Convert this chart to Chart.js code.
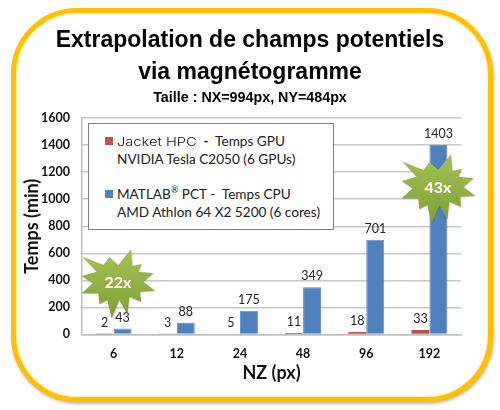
<!DOCTYPE html>
<html>
<head>
<meta charset="utf-8">
<script src="https://cdn.jsdelivr.net/npm/chart.js@4"></script>
<style>
html, body { margin: 0; padding: 0; background: #fff; overflow: hidden; }
#wrap { position: relative; width: 500px; height: 410px; }
#frame { position: absolute; left: 11px; top: 8px; width: 472px; height: 384px; border: 5px solid #ffc000; border-radius: 66px; box-shadow: 1px 2px 3px rgba(120,100,40,.45), inset 0 0 2px #ffc000; background: #fff; }
#c { position: absolute; left: 0; top: 0; }
#legend { position: absolute; left: 88px; top: 123px; width: 244px; height: 105px; background: #fff; border: 1px solid #7f7f7f; font: 13.6px Lato, sans-serif; color: #222; }
#legend div { position: absolute; left: 28px; white-space: nowrap; line-height: 18px; }
#legend i { position: absolute; left: 16px; width: 8px; height: 8px; }
.jacket { display: inline-block; font: 300 12px Inter, sans-serif; transform: scaleX(1.22); transform-origin: left center; width: 83px; color: #111; }
sup { font-size: 9px; line-height: 0; }
#stars { position: absolute; left: 0; top: 0; }
</style>
</head>
<body>
<div id="wrap">
  <div id="frame"></div>
  <canvas id="c" width="500" height="410"></canvas>
  <div id="legend">
    <i style="top:13px;background:#c0504d"></i>
    <div style="top:8px"><span class="jacket">Jacket HPC</span> <b style="font-weight:700">-</b>&nbsp; Temps GPU</div>
    <div style="top:26px">NVIDIA Tesla C2050 (6 GPUs)</div>
    <i style="top:66px;background:#4f81bd"></i>
    <div style="top:61px">MATLAB<sup>®</sup> PCT - &nbsp;Temps CPU</div>
    <div style="top:79px">AMD Athlon 64 X2 5200 (6 cores)</div>
  </div>
  <svg id="stars" width="500" height="410">
    <defs>
      <linearGradient id="g" x1="0" y1="0" x2="0" y2="1">
        <stop offset="0" stop-color="#a6c255"/>
        <stop offset="1" stop-color="#7f9f35"/>
      </linearGradient>
      <filter id="s" x="-20%" y="-20%" width="140%" height="140%">
        <feDropShadow dx="1" dy="1.5" stdDeviation="1.2" flood-color="#555" flood-opacity=".5"/>
      </filter>
      <polygon id="star" points="38,50 100,75 118,52 145,75 183,28 187,78 215,72 205,95 250,100 220,125 255,152 210,155 213,185 178,170 172,222 148,180 125,235 112,180 88,192 85,160 35,160 68,130 35,108 80,95" fill="url(#g)" filter="url(#s)"/>
    </defs>
    <g transform="translate(70,240) scale(.3333)"><use href="#star"/></g>
    <g transform="translate(390,145) scale(.3333)"><use href="#star"/></g>
    <text x="118" y="288" text-anchor="middle" font-family="Lato" font-weight="700" font-size="16" fill="#fff">22x</text>
    <text x="438" y="193" text-anchor="middle" font-family="Lato" font-weight="700" font-size="16" fill="#fff">43x</text>
  </svg>
</div>
<script>
var categories = ['6', '12', '24', '48', '96', '192'];
var gpuTimes = [2, 3, 5, 11, 18, 33];
var cpuTimes = [43, 88, 175, 349, 701, 1403];
var titleLines = ['Extrapolation de champs potentiels', 'via magnétogramme'];
var subtitleText = 'Taille : NX=994px, NY=484px';

// value labels above each bar
var barLabels = {
  id: 'barLabels',
  afterDatasetsDraw: function(chart) {
    var ctx = chart.ctx;
    ctx.save();
    ctx.font = '12.5px Lato, sans-serif';
    ctx.fillStyle = '#222';
    ctx.textAlign = 'center';
    ctx.textBaseline = 'middle';
    chart.data.datasets.forEach(function(ds, i) {
      chart.getDatasetMeta(i).data.forEach(function(bar, j) {
        ctx.fillText(ds.data[j], bar.x, bar.y - 11);
      });
    });
    ctx.restore();
  }
};

var ctx = document.getElementById('c').getContext('2d');
var myChart = new Chart(ctx, {
  type: 'bar',
  data: {
    labels: categories,
    datasets: [
      { label: 'Temps GPU', data: gpuTimes, backgroundColor: '#c0504d' },
      { label: 'Temps CPU', data: cpuTimes, backgroundColor: '#4f81bd', borderColor: '#5b8cc6', borderWidth: 1 }
    ]
  },
  plugins: [barLabels],
  options: {
    responsive: false,
    animation: false,
    layout: { padding: { left: 0, right: 0, top: 25, bottom: 26 } },
    datasets: { bar: { categoryPercentage: 0.57, barPercentage: 1 } },
    plugins: {
      legend: { display: false },
      tooltip: { enabled: false },
      title: {
        display: true,
        text: titleLines,
        color: '#000',
        font: { family: 'Liberation Sans', size: 23, weight: 'bold', lineHeight: 1.39 },
        padding: { top: 0, bottom: 0 }
      },
      subtitle: {
        display: true,
        text: subtitleText,
        color: '#000',
        font: { family: 'Liberation Sans', size: 14.3, weight: 'bold', lineHeight: 1.2 },
        padding: { top: 1, bottom: 11 }
      }
    },
    scales: {
      x: {
        grid: { display: false },
        border: { color: '#bfbfbf', width: 1.5 },
        ticks: { color: '#111', font: { family: 'Lato', size: 12.5, weight: 'bold' }, padding: 4, maxRotation: 0 },
        title: { display: true, text: 'NZ (px)', color: '#111', font: { family: 'Lato', size: 18, weight: 'bold' }, padding: { top: -3, bottom: 0 } }
      },
      y: {
        min: 0,
        max: 1600,
        afterFit: function(scale) { scale.width = 82; },
        grid: { color: '#c8c8c8', lineWidth: 1.5, drawTicks: false },
        border: { color: '#bfbfbf', width: 1.5 },
        ticks: {
          stepSize: 200,
          color: '#111',
          font: { family: 'Lato', size: 12.5, weight: 'bold' },
          padding: 12,
          callback: function(v) { return String(v); }
        },
        title: { display: true, text: 'Temps (min)', color: '#111', font: { family: 'Lato', size: 18, weight: 'bold' }, padding: { top: 21, bottom: 0 } }
      },
      // empty axis, only keeps the space right of the plot
      yRight: {
        position: 'right',
        afterFit: function(scale) { scale.width = 39; },
        grid: { display: false },
        border: { display: false },
        ticks: { display: false }
      }
    }
  }
});
</script>
</body>
</html>
